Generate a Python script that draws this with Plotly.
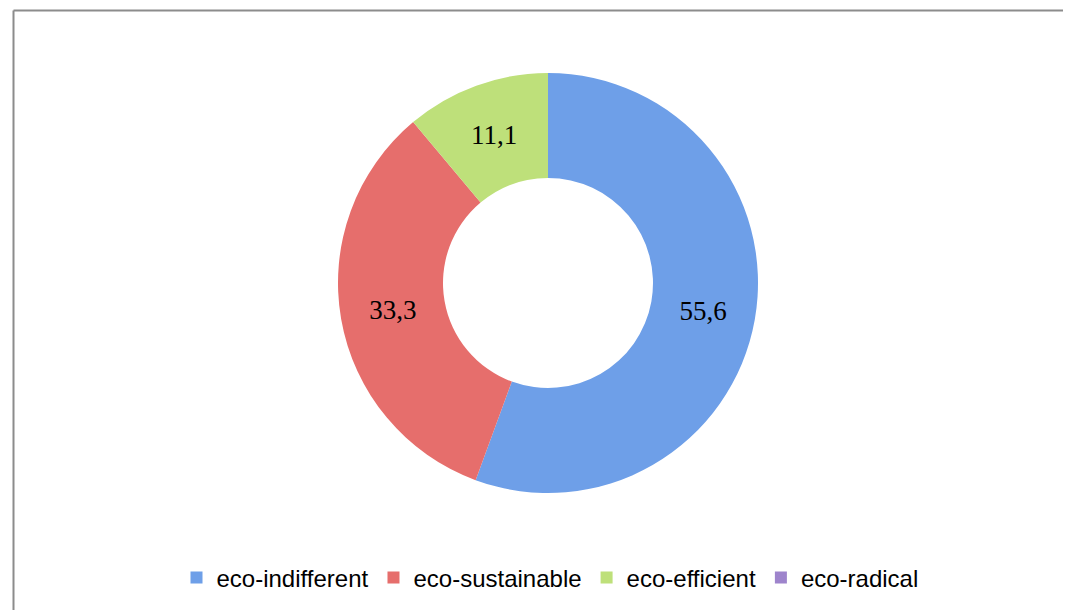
import plotly.graph_objects as go

categories = ["eco-indifferent", "eco-sustainable", "eco-efficient", "eco-radical"]
values = [55.6, 33.3, 11.1, 0.0]
value_labels = ["55,6", "33,3", "11,1", ""]
colors = ["#6E9FE8", "#E66E6C", "#BEE07A", "#9E84CC"]

# page body has an 8px margin; size the figure so it fills the window exactly
OFF = 8
W, H = 1071 - OFF, 610 - OFF
cx, cy, r = 548 - OFF, 283 - OFF, 210

fig = go.Figure()
fig.add_trace(go.Pie(
    labels=categories,
    values=values,
    text=value_labels,
    textinfo="text",
    textposition="inside",
    insidetextorientation="horizontal",
    textfont=dict(family="Liberation Serif", size=27, color="#000000"),
    hole=0.5,
    sort=False,
    direction="clockwise",
    rotation=0,
    marker=dict(colors=colors, line=dict(width=0)),
    domain=dict(x=[(cx - r) / W, (cx + r) / W], y=[1 - (cy + r) / H, 1 - (cy - r) / H]),
    hoverinfo="label+value",
    showlegend=True,
))

bx, by = 13.5 - OFF, 10.5 - OFF
fig.update_layout(
    width=W, height=H,
    margin=dict(l=0, r=0, t=0, b=0),
    paper_bgcolor="white",
    plot_bgcolor="white",
    legend=dict(
        orientation="h",
        x=(550 - OFF) / W, xanchor="center",
        y=1 - (578 - OFF) / H, yanchor="middle",
        font=dict(family="Liberation Sans, Arial", size=24, color="#000000"),
        traceorder="normal",
        itemwidth=30,
    ),
    shapes=[
        dict(type="line", xref="paper", yref="paper", x0=bx / W, x1=1.0, y0=1 - by / H, y1=1 - by / H,
             line=dict(color="#8C8C8C", width=2)),
        dict(type="line", xref="paper", yref="paper", x0=bx / W, x1=bx / W, y0=0, y1=1 - by / H,
             line=dict(color="#8C8C8C", width=2)),
    ],
)

fig.write_html("out.html")
